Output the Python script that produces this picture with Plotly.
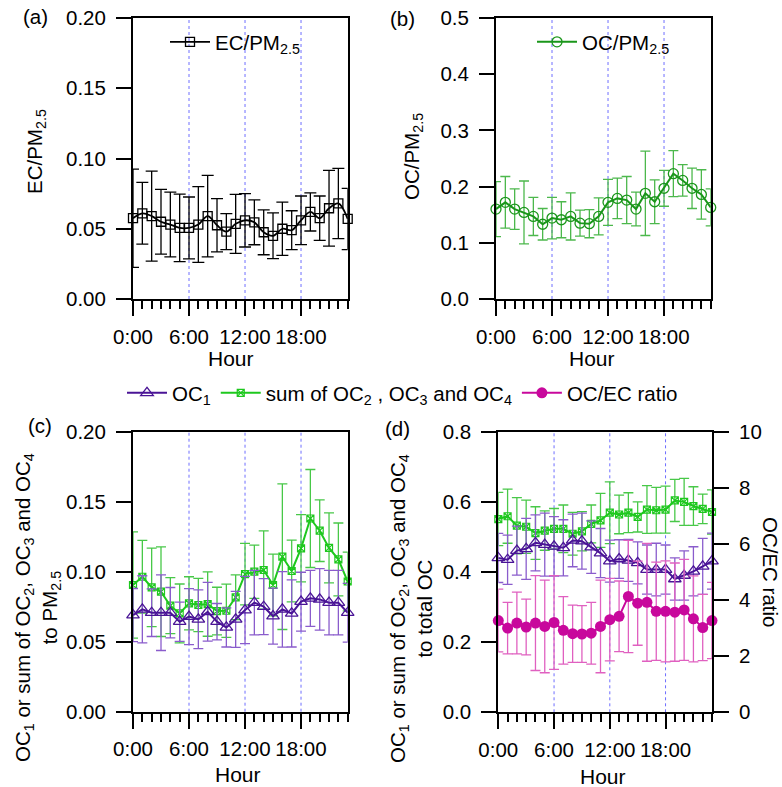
import plotly.graph_objects as go

# ---------------- data: diurnal means and standard deviations ----------------
hours = list(range(24))
hour_ticks = [0, 6, 12, 18]
hour_labels = ["0:00", "6:00", "12:00", "18:00"]

ec_pm = [0.0575, 0.061, 0.059, 0.055, 0.053, 0.0506, 0.0506, 0.053, 0.059, 0.0525, 0.048, 0.0535,
         0.056, 0.0546, 0.0475, 0.045, 0.050, 0.049, 0.056, 0.062, 0.0575, 0.0646, 0.068, 0.057]
ec_pm_sd = [0.035, 0.022, 0.032, 0.023, 0.023, 0.024, 0.022, 0.027, 0.029, 0.019, 0.0128, 0.021,
            0.019, 0.016, 0.016, 0.0163, 0.019, 0.0138, 0.0173, 0.0136, 0.0158, 0.027, 0.025, 0.0218]

oc_pm = [0.160, 0.172, 0.160, 0.154, 0.147, 0.133, 0.144, 0.141, 0.147, 0.135, 0.134, 0.147,
         0.172, 0.179, 0.176, 0.160, 0.188, 0.173, 0.197, 0.223, 0.211, 0.197, 0.186, 0.163]
oc_pm_sd = [0.049, 0.046, 0.036, 0.056, 0.034, 0.028, 0.037, 0.032, 0.042, 0.023, 0.025, 0.033,
            0.041, 0.036, 0.042, 0.030, 0.075, 0.039, 0.032, 0.041, 0.028, 0.036, 0.044, 0.033]

oc1_pm = [0.069, 0.0731, 0.0707, 0.0707, 0.0707, 0.0643, 0.0679, 0.066, 0.0714, 0.0643, 0.0602, 0.066,
          0.0726, 0.0779, 0.075, 0.0683, 0.0731, 0.0702, 0.0786, 0.081, 0.0802, 0.0779, 0.0779, 0.0707]
oc1_pm_sd = [0.019, 0.024, 0.017, 0.027, 0.018, 0.014, 0.020, 0.021, 0.021, 0.013, 0.014, 0.020,
             0.024, 0.023, 0.020, 0.020, 0.027, 0.024, 0.021, 0.020, 0.022, 0.023, 0.023, 0.021]

oc234_pm = [0.0905, 0.0964, 0.0888, 0.0857, 0.0757, 0.0702, 0.0774, 0.0762, 0.0769, 0.0719, 0.0721, 0.0817,
            0.0983, 0.100, 0.1012, 0.0905, 0.1107, 0.1005, 0.1167, 0.138, 0.1293, 0.117, 0.1088, 0.093]
oc234_pm_sd = [0.038, 0.026, 0.028, 0.032, 0.020, 0.021, 0.019, 0.019, 0.023, 0.017, 0.019, 0.016,
               0.022, 0.019, 0.028, 0.022, 0.052, 0.022, 0.024, 0.035, 0.022, 0.025, 0.026, 0.021]

oc1_oc = [0.440, 0.435, 0.461, 0.466, 0.483, 0.478, 0.473, 0.469, 0.490, 0.488, 0.471, 0.454,
          0.431, 0.437, 0.433, 0.426, 0.407, 0.407, 0.407, 0.380, 0.390, 0.402, 0.416, 0.431]
oc1_oc_sd = [0.07, 0.07, 0.07, 0.087, 0.08, 0.09, 0.085, 0.08, 0.075, 0.08, 0.075, 0.07,
             0.06, 0.055, 0.06, 0.06, 0.07, 0.075, 0.07, 0.06, 0.07, 0.07, 0.08, 0.08]

oc234_oc = [0.551, 0.559, 0.532, 0.529, 0.511, 0.518, 0.523, 0.523, 0.509, 0.516, 0.537, 0.547,
            0.569, 0.564, 0.569, 0.557, 0.578, 0.576, 0.578, 0.604, 0.600, 0.588, 0.580, 0.571]
oc234_oc_sd = [0.076, 0.077, 0.080, 0.076, 0.075, 0.056, 0.058, 0.068, 0.061, 0.056, 0.054, 0.077,
               0.088, 0.055, 0.057, 0.043, 0.068, 0.065, 0.067, 0.060, 0.067, 0.055, 0.042, 0.063]

oc_ec = [3.27, 3.00, 3.18, 3.04, 3.18, 3.06, 3.20, 2.92, 2.80, 2.79, 2.82, 3.06,
         3.30, 3.42, 4.13, 3.89, 3.92, 3.60, 3.60, 3.57, 3.65, 3.33, 3.02, 3.27]
oc_ec_sd = [1.12, 0.92, 1.10, 0.99, 1.69, 1.65, 1.67, 1.20, 1.02, 1.01, 1.10, 1.65,
            1.47, 1.26, 2.00, 1.50, 2.10, 1.75, 1.80, 1.75, 1.80, 1.53, 1.18, 1.36]

# ---------------- styling ----------------
W, H = 782, 787
FONT = "Liberation Sans, Arial, sans-serif"
FS = 20.5

C_EC = "black"
C_OC, C_OC_ERR = "#1a961a", "#4cb84c"
C_OC1, C_OC1_ERR = "#4a1496", "#8a5ccc"
C_SUM, C_SUM_ERR = "#1ec81e", "#48c848"
C_RAT, C_RAT_ERR = "#c8089c", "#e060c0"


def px(x):
    return x / W


def py(y):
    return 1 - y / H


def err(sd, color, width):
    return dict(type="data", array=sd, visible=True, color=color, thickness=1.3, width=width)


fig = go.Figure()

# (a) EC/PM2.5
fig.add_trace(go.Scatter(
    x=hours, y=ec_pm, mode="lines+markers", name="EC/PM<sub>2.5</sub>",
    line=dict(color=C_EC, width=1.8, shape="spline", smoothing=1),
    marker=dict(symbol="square-open", size=9, color=C_EC, line=dict(width=1.3)),
    error_y=err(ec_pm_sd, C_EC, 6), cliponaxis=False,
    xaxis="x", yaxis="y", legend="legend"))

# (b) OC/PM2.5
fig.add_trace(go.Scatter(
    x=hours, y=oc_pm, mode="lines+markers", name="OC/PM<sub>2.5</sub>",
    line=dict(color=C_OC, width=2),
    marker=dict(symbol="circle-open", size=10, color=C_OC, line=dict(width=1.3)),
    error_y=err(oc_pm_sd, C_OC_ERR, 5), cliponaxis=False,
    xaxis="x2", yaxis="y2", legend="legend2"))

# (c) OC fractions relative to PM2.5
fig.add_trace(go.Scatter(
    x=hours, y=oc234_pm, mode="lines+markers", name="sum of OC<sub>2</sub> , OC<sub>3</sub> and OC<sub>4</sub>",
    line=dict(color=C_SUM, width=2),
    marker=dict(symbol="square-x-open", size=7, color=C_SUM, line=dict(width=1.2)),
    error_y=err(oc234_pm_sd, C_SUM_ERR, 5), cliponaxis=False,
    xaxis="x3", yaxis="y3", legend="legend3", legendrank=2))
fig.add_trace(go.Scatter(
    x=hours, y=oc1_pm, mode="lines+markers", name="OC<sub>1</sub>",
    line=dict(color=C_OC1, width=2),
    marker=dict(symbol="triangle-up-open", size=11, color=C_OC1, line=dict(width=1.3)),
    error_y=err(oc1_pm_sd, C_OC1_ERR, 5), cliponaxis=False,
    xaxis="x3", yaxis="y3", legend="legend3", legendrank=1))

# (d) OC fractions relative to total OC, with OC/EC ratio on the right axis
fig.add_trace(go.Scatter(
    x=hours, y=oc234_oc, mode="lines+markers", showlegend=False,
    line=dict(color=C_SUM, width=2),
    marker=dict(symbol="square-x-open", size=7, color=C_SUM, line=dict(width=1.2)),
    error_y=err(oc234_oc_sd, C_SUM_ERR, 5), cliponaxis=False,
    xaxis="x4", yaxis="y4"))
fig.add_trace(go.Scatter(
    x=hours, y=oc1_oc, mode="lines+markers", showlegend=False,
    line=dict(color=C_OC1, width=2),
    marker=dict(symbol="triangle-up-open", size=11, color=C_OC1, line=dict(width=1.3)),
    error_y=err(oc1_oc_sd, C_OC1_ERR, 5), cliponaxis=False,
    xaxis="x4", yaxis="y4"))
fig.add_trace(go.Scatter(
    x=hours, y=oc_ec, mode="lines+markers", name="OC/EC ratio",
    line=dict(color=C_RAT, width=2),
    marker=dict(symbol="circle", size=11, color=C_RAT),
    error_y=err(oc_ec_sd, C_RAT_ERR, 5), cliponaxis=False,
    xaxis="x4", yaxis="y5", legend="legend3", legendrank=3))

# ---------------- axes ----------------
tickfont = dict(family=FONT, size=FS, color="black")


def xax(x0, x1):
    return dict(
        domain=[px(x0), px(x1)], range=[0, 23],
        tickmode="array", tickvals=hour_ticks, ticktext=hour_labels,
        ticks="outside", ticklen=15, tickwidth=2, tickcolor="black", ticklabelstandoff=3,
        minor=dict(tickmode="array", tickvals=hours, ticks="outside", ticklen=8,
                   tickwidth=2, tickcolor="black", showgrid=False),
        showline=True, linewidth=2, linecolor="black", mirror=True,
        showgrid=False, zeroline=False, tickfont=tickfont, fixedrange=True, automargin=False)


def yax(y_top, y_bot, rng, dtick, fmt, anchor):
    return dict(
        domain=[py(y_bot), py(y_top)], range=rng, tick0=0, dtick=dtick, tickformat=fmt,
        ticks="outside", ticklen=15, tickwidth=2, tickcolor="black", ticklabelstandoff=6,
        showline=True, linewidth=2, linecolor="black", mirror=True,
        showgrid=False, zeroline=False, tickfont=tickfont, anchor=anchor,
        fixedrange=True, automargin=False)


fig.update_layout(
    xaxis=dict(xax(133, 347.7), anchor="y"),
    yaxis=yax(18, 299, [0, 0.2], 0.05, ".2f", "x"),
    xaxis2=dict(xax(496, 710.7), anchor="y2"),
    yaxis2=yax(18, 299, [0, 0.5], 0.1, ".1f", "x2"),
    xaxis3=dict(xax(133, 347.7), anchor="y3"),
    yaxis3=yax(431.7, 711.7, [0, 0.2], 0.05, ".2f", "x3"),
    xaxis4=dict(xax(498.3, 712), anchor="y4"),
    yaxis4=yax(431.7, 712.3, [0, 0.8], 0.2, ".1f", "x4"),
    yaxis5=dict(
        overlaying="y4", side="right", anchor="x4", range=[0, 10], tick0=0, dtick=2,
        ticks="outside", ticklen=15, tickwidth=2, tickcolor="black", ticklabelstandoff=6,
        showline=True, linewidth=2, linecolor="black", showgrid=False, zeroline=False,
        tickfont=tickfont, fixedrange=True, automargin=False),
)

# dotted guides at 6:00, 12:00 and 18:00
shapes = []
for xr, yr in [("x", "y"), ("x2", "y2"), ("x3", "y3"), ("x4", "y4")]:
    for h in [6, 12, 18]:
        shapes.append(dict(type="line", xref=xr, yref=yr + " domain", x0=h, x1=h, y0=0, y1=1,
                           line=dict(color="#6e6eff", width=1, dash="dot"), layer="below"))

# ---------------- text ----------------
def note(text, x, y, size=FS, angle=0):
    return dict(text=text, x=px(x), y=py(y), xref="paper", yref="paper", showarrow=False,
                xanchor="center", yanchor="middle", textangle=angle,
                font=dict(family=FONT, size=size, color="black"))


annotations = [
    note("(a)", 35, 17), note("(b)", 402, 18), note("(c)", 40, 425), note("(d)", 397, 428),
    note("EC/PM<sub>2.5</sub>", 36, 152, angle=-90),
    note("OC/PM<sub>2.5</sub>", 413, 157, angle=-90),
    note("OC<sub>1</sub> or sum of OC<sub>2</sub>, OC<sub>3</sub> and OC<sub>4</sub><br>to PM<sub>2.5</sub>",
         37, 608, angle=-90),
    note("OC<sub>1</sub> or sum of OC<sub>2</sub>, OC<sub>3</sub> and OC<sub>4</sub><br>to total OC",
         411, 609, angle=-90),
    note("OC/EC ratio", 771, 572, angle=90),
    note("Hour", 231, 358, size=21), note("Hour", 592, 358, size=21),
    note("Hour", 238, 774, size=21), note("Hour", 603, 776, size=21),
]

legfont = dict(family=FONT, size=FS, color="black")
fig.update_layout(
    width=W, height=H, margin=dict(l=0, r=0, t=0, b=0, autoexpand=False),
    paper_bgcolor="white", plot_bgcolor="white",
    shapes=shapes, annotations=annotations,
    legend=dict(x=px(165), y=py(42), xanchor="left", yanchor="middle", itemwidth=40,
                bgcolor="rgba(0,0,0,0)", font=legfont),
    legend2=dict(x=px(532), y=py(42), xanchor="left", yanchor="middle", itemwidth=40,
                 bgcolor="rgba(0,0,0,0)", font=legfont),
    legend3=dict(x=px(122), y=py(393), xanchor="left", yanchor="middle", orientation="h",
                 itemwidth=40, bgcolor="rgba(0,0,0,0)", font=legfont, traceorder="normal"),
)

fig.write_html("out.html", config={"displayModeBar": False})
